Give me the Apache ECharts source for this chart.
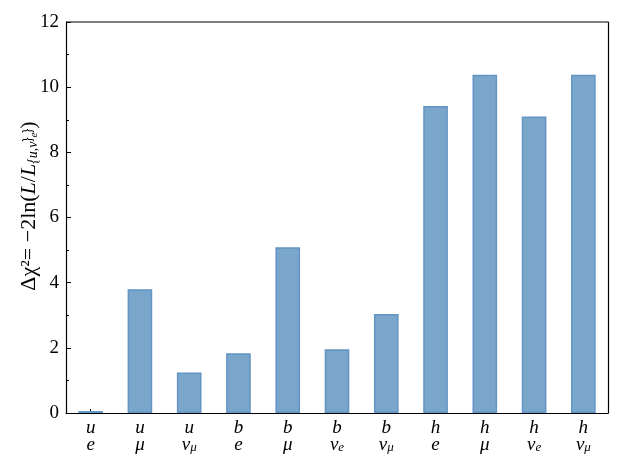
<!DOCTYPE html>
<html>
<head>
<meta charset="utf-8">
<script src="https://cdn.jsdelivr.net/npm/echarts@6/dist/echarts.min.js"></script>
<style>html,body{margin:0;padding:0;background:#fff}#c{width:623px;height:467px}</style>
</head>
<body>
<div id="c"></div>
<script>
var topLabels = ['u','u','u','b','b','b','b','h','h','h','h'];
var bottomLabels = ['e','μ','ν_μ','e','μ','ν_e','ν_μ','e','μ','ν_e','ν_μ'];
var values = [0.06, 3.8, 1.24, 1.83, 5.09, 1.96, 3.04, 9.42, 10.38, 9.1, 10.38];
var yTicks = [0, 2, 4, 6, 8, 10, 12];

var categories = topLabels.map(function(t, i){ return t + '|' + bottomLabels[i]; });

var serif = "'Liberation Serif', 'DejaVu Serif', serif";
var nameRich = {
  t: {fontFamily: serif, fontSize: 22, fill: '#000', color: '#000', verticalAlign: 'bottom', lineHeight: 24},
  L: {fontFamily: serif, fontStyle: 'italic', fontSize: 22, fill: '#000', color: '#000', verticalAlign: 'bottom', lineHeight: 24},
  s: {fontFamily: serif, fontStyle: 'italic', fontSize: 14, fill: '#000', color: '#000', verticalAlign: 'bottom', lineHeight: 24},
  ss: {fontFamily: serif, fontStyle: 'italic', fontSize: 11, fill: '#000', color: '#000', verticalAlign: 'bottom', lineHeight: 24}
};

var chart = echarts.init(document.getElementById('c'), null, {renderer:'canvas'});
chart.setOption({
  animation: false,
  backgroundColor: '#fff',
  grid: {left: 66, right: 15, top: 22, bottom: 54, containLabel: false},
  xAxis: {
    type: 'category',
    data: categories,
    boundaryGap: true,
    axisLine: {show: true, lineStyle: {color: '#000', width: 1.2}},
    axisTick: {show: true, inside: true, alignWithLabel: true, length: 4, lineStyle: {color: '#000'}},
    axisLabel: {
      margin: 7,
      interval: 0,
      formatter: function(v){
        var p = v.split('|');
        var b = p[1];
        var line2;
        if (b.indexOf('_') >= 0) {
          var q = b.split('_');
          line2 = '{m|' + q[0] + '}{s|' + q[1] + '}';
        } else {
          line2 = '{m|' + b + '}';
        }
        return '{m|' + p[0] + '}\n' + line2;
      },
      rich: {
        m: {fontFamily: serif, fontStyle: 'italic', fontSize: 19, color: '#000', lineHeight: 17, verticalAlign: 'bottom'},
        s: {fontFamily: serif, fontStyle: 'italic', fontSize: 13, color: '#000', lineHeight: 17, verticalAlign: 'bottom'}
      }
    },
    splitLine: {show: false}
  },
  yAxis: [{
    type: 'value',
    min: 0, max: 12, interval: 2,
    axisLine: {show: true, lineStyle: {color: '#000', width: 1.2}},
    axisTick: {show: true, inside: true, length: 5, lineStyle: {color: '#000'}},
    minorTick: {show: true, splitNumber: 2, length: 3, lineStyle: {color: '#000'}},
    axisLabel: {fontFamily: serif, fontSize: 19, color: '#000', margin: 7,
      formatter: function(v){ return yTicks.indexOf(v) >= 0 ? String(v) : ''; }},
    splitLine: {show: false}
  }, {
    type: 'value',
    min: 0, max: 12, interval: 2,
    position: 'right',
    axisLine: {show: true, lineStyle: {color: '#000', width: 1.2}},
    axisTick: {show: false},
    axisLabel: {show: false},
    splitLine: {show: false}
  }],
  series: [{
    type: 'bar',
    data: values,
    barWidth: '50%',
    itemStyle: {color: 'rgba(123,166,203,1)', borderColor: 'rgb(98,148,196)', borderWidth: 1.5}
  }],
  graphic: [{
    type: 'line',
    shape: {x1: 66, y1: 22, x2: 608, y2: 22},
    style: {stroke: '#000', lineWidth: 1.2},
    z: 100
  }, {
    type: 'text',
    x: 28, y: 206,
    rotation: Math.PI / 2,
    style: {
      text: '{t|Δχ²= −2ln(}{L|L}{t|/}{L|L}{s|{u,ν}}{ss|e}{s|}}{t|)}',
      rich: nameRich,
      align: 'center',
      verticalAlign: 'middle',
      fill: '#000'
    },
    z: 100
  }]
});
</script>
</body>
</html>
